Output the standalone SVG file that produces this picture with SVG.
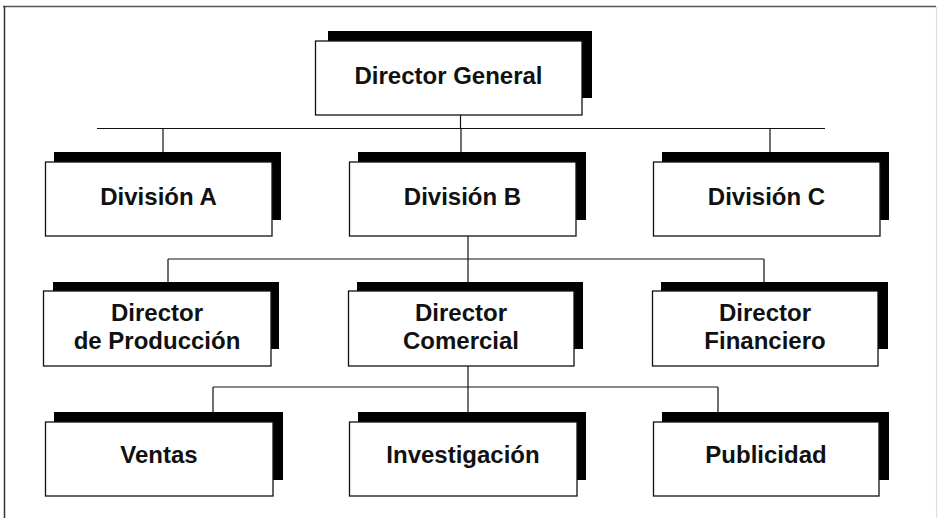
<svg xmlns="http://www.w3.org/2000/svg" width="938" height="518" viewBox="0 0 938 518">
  <style>
    .shadow { fill: #000; }
    .box { fill: #fff; stroke: #111; stroke-width: 1.3; }
    .label { font-family: "Liberation Sans", Arial, sans-serif; font-weight: bold; font-size: 24px; fill: #111; text-anchor: middle; }
    .wire { fill: none; stroke: #111; stroke-width: 1.2; }
  </style>

  <!-- page frame -->
  <rect x="0" y="0" width="938" height="518" fill="#fff"/>
  <line x1="3" y1="6.5" x2="936" y2="6.5" stroke="#555" stroke-width="1.5"/>
  <line x1="4.5" y1="6" x2="4.5" y2="518" stroke="#333" stroke-width="1.5"/>
  <line x1="936.5" y1="7" x2="936.5" y2="518" stroke="#ddd" stroke-width="1.2"/>

  <!-- connectors -->
  <g id="connectors" class="wire">
    <path d="M460.5 115 V128.5"/>
    <path d="M97 128.5 H825"/>
    <path d="M163 128.5 V152 M461 128.5 V152 M770 128.5 V152"/>
    <path d="M468 236 V282"/>
    <path d="M168 259 H764"/>
    <path d="M168 259 V282 M764 259 V282"/>
    <path d="M468 366 V412"/>
    <path d="M213 387 H718"/>
    <path d="M213 387 V412 M718 387 V412"/>
  </g>

  <g id="director-general">
    <rect class="shadow" x="328" y="31" width="264" height="67"/>
    <rect class="box" x="315.5" y="41" width="266.5" height="74"/>
    <text class="label" x="448.5" y="84">Director General</text>
  </g>

  <g id="division-a">
    <rect class="shadow" x="54" y="152" width="227" height="68"/>
    <rect class="box" x="45.5" y="162" width="226.5" height="74"/>
    <text class="label" x="158.5" y="205">División A</text>
  </g>

  <g id="division-b">
    <rect class="shadow" x="358" y="152" width="228" height="68"/>
    <rect class="box" x="349.5" y="162" width="226.5" height="74"/>
    <text class="label" x="462.5" y="205">División B</text>
  </g>

  <g id="division-c">
    <rect class="shadow" x="662" y="152" width="227" height="68"/>
    <rect class="box" x="653.5" y="162" width="226.5" height="74"/>
    <text class="label" x="766.5" y="205">División C</text>
  </g>

  <g id="director-produccion">
    <rect class="shadow" x="53" y="282" width="226" height="67"/>
    <rect class="box" x="43.5" y="291" width="227.5" height="75"/>
    <text class="label" x="157" y="321">Director</text>
    <text class="label" x="157" y="349">de Producción</text>
  </g>

  <g id="director-comercial">
    <rect class="shadow" x="357" y="282" width="226" height="67"/>
    <rect class="box" x="348.5" y="291" width="225.5" height="75"/>
    <text class="label" x="461" y="321">Director</text>
    <text class="label" x="461" y="349">Comercial</text>
  </g>

  <g id="director-financiero">
    <rect class="shadow" x="661" y="282" width="227" height="67"/>
    <rect class="box" x="652.5" y="291" width="225.5" height="75"/>
    <text class="label" x="765" y="321">Director</text>
    <text class="label" x="765" y="349">Financiero</text>
  </g>

  <g id="ventas">
    <rect class="shadow" x="54" y="412" width="229" height="68"/>
    <rect class="box" x="45.5" y="422" width="227.5" height="74"/>
    <text class="label" x="159" y="463">Ventas</text>
  </g>

  <g id="investigacion">
    <rect class="shadow" x="358" y="412" width="228" height="68"/>
    <rect class="box" x="349.5" y="422" width="227.5" height="74"/>
    <text class="label" x="463" y="463">Investigación</text>
  </g>

  <g id="publicidad">
    <rect class="shadow" x="662" y="412" width="227" height="68"/>
    <rect class="box" x="653.5" y="422" width="225.5" height="74"/>
    <text class="label" x="766" y="463">Publicidad</text>
  </g>
</svg>
